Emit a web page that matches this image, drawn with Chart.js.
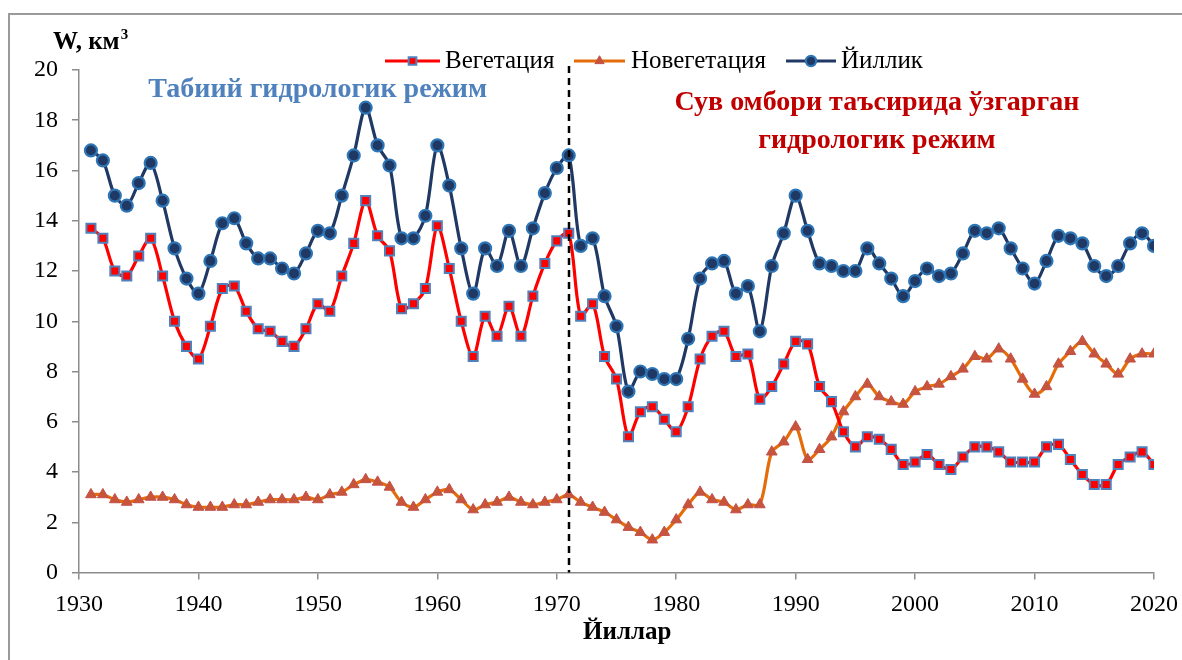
<!DOCTYPE html>
<html>
<head>
<meta charset="utf-8">
<script src="https://cdn.jsdelivr.net/npm/chart.js@4.4.1/dist/chart.umd.min.js"></script>
<style>
  html, body { margin: 0; padding: 0; background: #fff; }
  #wrap { position: relative; width: 1182px; height: 660px; overflow: hidden; }
  #frame { position: absolute; left: 8px; top: 13px; width: 1200px; height: 700px;
           border-left: 2px solid #9a9a9a; border-top: 2px solid #9a9a9a; box-sizing: border-box; }
  canvas { position: absolute; left: 0; top: 0; }
</style>
</head>
<body>
<div id="wrap">
  <div id="frame"></div>
  <canvas id="c" width="1182" height="660"></canvas>
</div>
<script>
// ---- data ----
const years = [1931,1932,1933,1934,1935,1936,1937,1938,1939,1940,
  1941,1942,1943,1944,1945,1946,1947,1948,1949,1950,
  1951,1952,1953,1954,1955,1956,1957,1958,1959,1960,
  1961,1962,1963,1964,1965,1966,1967,1968,1969,1970,
  1971,1972,1973,1974,1975,1976,1977,1978,1979,1980,
  1981,1982,1983,1984,1985,1986,1987,1988,1989,1990,
  1991,1992,1993,1994,1995,1996,1997,1998,1999,2000,
  2001,2002,2003,2004,2005,2006,2007,2008,2009,2010,
  2011,2012,2013,2014,2015,2016,2017,2018,2019,2020];

const vegetation = [13.7,13.3,12.0,11.8,12.6,13.3,11.8,10.0,9.0,8.5,
  9.8,11.3,11.4,10.4,9.7,9.6,9.2,9.0,9.7,10.7,
  10.4,11.8,13.1,14.8,13.4,12.8,10.5,10.7,11.3,13.8,
  12.1,10.0,8.6,10.2,9.4,10.6,9.4,11.0,12.3,13.2,
  13.5,10.2,10.7,8.6,7.7,5.4,6.4,6.6,6.1,5.6,
  6.6,8.5,9.4,9.6,8.6,8.7,6.9,7.4,8.3,9.2,
  9.1,7.4,6.8,5.6,5.0,5.4,5.3,4.9,4.3,4.4,
  4.7,4.3,4.1,4.6,5.0,5.0,4.8,4.4,4.4,4.4,
  5.0,5.1,4.5,3.9,3.5,3.5,4.3,4.6,4.8,4.3];

const nonVegetation = [3.1,3.1,2.9,2.8,2.9,3.0,3.0,2.9,2.7,2.6,
  2.6,2.6,2.7,2.7,2.8,2.9,2.9,2.9,3.0,2.9,
  3.1,3.2,3.5,3.7,3.6,3.4,2.8,2.6,2.9,3.2,
  3.3,2.9,2.5,2.7,2.8,3.0,2.8,2.7,2.8,2.9,
  3.1,2.8,2.6,2.4,2.1,1.8,1.6,1.3,1.6,2.1,
  2.7,3.2,2.9,2.8,2.5,2.7,2.7,4.8,5.2,5.8,
  4.5,4.9,5.4,6.4,7.0,7.5,7.0,6.8,6.7,7.2,
  7.4,7.5,7.8,8.1,8.6,8.5,8.9,8.5,7.7,7.1,
  7.4,8.3,8.8,9.2,8.7,8.3,7.9,8.5,8.7,8.7];

const annual = [16.8,16.4,15.0,14.6,15.5,16.3,14.8,12.9,11.7,11.1,
  12.4,13.9,14.1,13.1,12.5,12.5,12.1,11.9,12.7,13.6,
  13.5,15.0,16.6,18.5,17.0,16.2,13.3,13.3,14.2,17.0,
  15.4,12.9,11.1,12.9,12.2,13.6,12.2,13.7,15.1,16.1,
  16.6,13.0,13.3,11.0,9.8,7.2,8.0,7.9,7.7,7.7,
  9.3,11.7,12.3,12.4,11.1,11.4,9.6,12.2,13.5,15.0,
  13.6,12.3,12.2,12.0,12.0,12.9,12.3,11.7,11.0,11.6,
  12.1,11.8,11.9,12.7,13.6,13.5,13.7,12.9,12.1,11.5,
  12.4,13.4,13.3,13.1,12.2,11.8,12.2,13.1,13.5,13.0];

const seriesNames = ['Вегетация', 'Новегетация', 'Йиллик'];
const xTickValues = [1930,1940,1950,1960,1970,1980,1990,2000,2010,2020];
const yTickValues = [0,2,4,6,8,10,12,14,16,18,20];
const dividerYear = 1971;
const yAxisTitle = 'W, км';
const yAxisTitleSup = '3';
const xAxisTitle = 'Йиллар';
const leftNote = 'Табиий гидрологик режим';
const rightNote = ['Сув омбори таъсирида ўзгарган', 'гидрологик режим'];

// ---- styles ----
const SERIF = '"Liberation Serif", "Times New Roman", serif';
const styles = [
  { line: '#FF0000', fill: '#FF0000', border: '#4F81BD', point: 'rect', radius: 6.4, bw: 2 },
  { line: '#E46C0A', fill: '#C8553A', border: '#C0504D', point: 'triangle', radius: 6.2, bw: 1 },
  { line: '#1F3864', fill: '#1F3864', border: '#2E75B6', point: 'circle', radius: 6, bw: 2.2 }
];
const seriesData = [vegetation, nonVegetation, annual];

const datasets = seriesData.map((arr, i) => ({
  label: seriesNames[i],
  data: arr.map((v, k) => ({ x: years[k], y: v })),
  borderColor: styles[i].line,
  backgroundColor: styles[i].fill,
  borderWidth: 3.2,
  tension: 0.3,
  pointStyle: styles[i].point,
  pointRadius: styles[i].radius,
  pointBackgroundColor: styles[i].fill,
  pointBorderColor: styles[i].border,
  pointBorderWidth: styles[i].bw
}));

function marker(ctx, s, cx, cy, r) {
  ctx.fillStyle = s.fill;
  ctx.strokeStyle = s.border;
  ctx.lineWidth = s.bw;
  ctx.beginPath();
  if (s.point === 'rect') {
    const h = r * Math.SQRT1_2;
    ctx.rect(cx - h, cy - h, 2 * h, 2 * h);
  } else if (s.point === 'circle') {
    ctx.arc(cx, cy, r, 0, Math.PI * 2);
  } else {
    ctx.moveTo(cx, cy - r);
    ctx.lineTo(cx + r * 0.87, cy + r * 0.5);
    ctx.lineTo(cx - r * 0.87, cy + r * 0.5);
    ctx.closePath();
  }
  ctx.fill();
  ctx.stroke();
}

const overlay = {
  id: 'overlay',
  afterDatasetsDraw(chart) {
    const { ctx, scales: { x, y }, chartArea } = chart;
    // divider
    ctx.save();
    ctx.strokeStyle = '#000';
    ctx.lineWidth = 2.5;
    ctx.setLineDash([7, 5]);
    const dx = Math.round(x.getPixelForValue(dividerYear));
    ctx.beginPath();
    ctx.moveTo(dx, chartArea.top - 4);
    ctx.lineTo(dx, chartArea.bottom);
    ctx.stroke();
    ctx.setLineDash([]);

    // annotations
    ctx.textBaseline = 'middle';
    ctx.font = 'bold 28px ' + SERIF;
    ctx.fillStyle = '#4F81BD';
    ctx.textAlign = 'left';
    ctx.fillText(leftNote, x.getPixelForValue(1935.8), y.getPixelForValue(19.2));
    ctx.fillStyle = '#C00000';
    ctx.textAlign = 'center';
    ctx.fillText(rightNote[0], x.getPixelForValue(1996.8), y.getPixelForValue(18.68));
    ctx.fillText(rightNote[1], x.getPixelForValue(1996.8), y.getPixelForValue(17.18));

    // axis titles
    ctx.fillStyle = '#000';
    ctx.textAlign = 'left';
    ctx.font = 'bold 25px ' + SERIF;
    ctx.fillText(yAxisTitle, 53, 43);
    const w = ctx.measureText(yAxisTitle).width;
    ctx.font = 'bold 15px ' + SERIF;
    ctx.fillText(yAxisTitleSup, 53 + w + 1, 35);

    ctx.textAlign = 'center';
    ctx.font = 'bold 25px ' + SERIF;
    ctx.fillText(xAxisTitle, x.getPixelForValue(1975.9), 633);

    // legend
    const items = [
      { x0: 385, x1: 440, tx: 445 },
      { x0: 574, x1: 625, tx: 631 },
      { x0: 786, x1: 836, tx: 841 }
    ];
    const ly = 61;
    items.forEach((it, i) => {
      const s = styles[i];
      ctx.strokeStyle = s.line;
      ctx.lineWidth = 3.2;
      ctx.beginPath();
      ctx.moveTo(it.x0, ly);
      ctx.lineTo(it.x1, ly);
      ctx.stroke();
      marker(ctx, s, (it.x0 + it.x1) / 2, ly, s.radius * 0.85);
      ctx.fillStyle = '#000';
      ctx.font = '25px ' + SERIF;
      ctx.textAlign = 'left';
      ctx.fillText(seriesNames[i], it.tx, ly);
    });
    ctx.restore();
  }
};

new Chart(document.getElementById('c'), {
  type: 'line',
  data: { datasets },
  options: {
    responsive: false,
    animation: false,
    layout: { padding: { left: 0, right: 28, top: 70, bottom: 0 } },
    plugins: { legend: { display: false }, tooltip: { enabled: false } },
    scales: {
      x: {
        type: 'linear', min: 1930, max: 2020,
        afterBuildTicks: s => { s.ticks = xTickValues.map(v => ({ value: v })); },
        afterFit: s => { s.height = 87.5; s.paddingRight = 20; s.paddingLeft = 20; },
        ticks: { color: '#000', font: { family: SERIF, size: 24 }, padding: 11, maxRotation: 0, autoSkip: false, callback: v => String(v) },
        grid: { drawOnChartArea: false, drawTicks: true, tickLength: 7, color: '#8c8c8c', lineWidth: 1.5 },
        border: { color: '#8c8c8c', width: 1.5 }
      },
      y: {
        min: 0, max: 20,
        afterBuildTicks: s => { s.ticks = yTickValues.map(v => ({ value: v })); },
        afterFit: s => { s.width = 79; s.paddingTop = 10; s.paddingBottom = 10; },
        ticks: { color: '#000', font: { family: SERIF, size: 24 }, padding: 14, callback: v => String(v) },
        grid: { drawOnChartArea: false, drawTicks: true, tickLength: 7, color: '#8c8c8c', lineWidth: 1.5 },
        border: { color: '#8c8c8c', width: 1.5 }
      }
    }
  },
  plugins: [overlay]
});
</script>
</body>
</html>
